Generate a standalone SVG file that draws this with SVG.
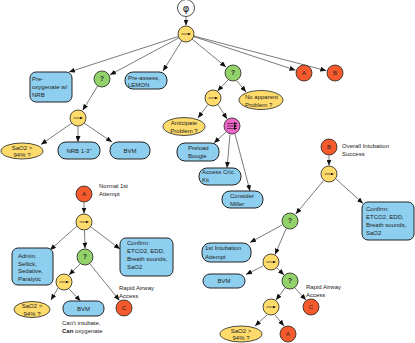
<svg xmlns="http://www.w3.org/2000/svg" width="415" height="343" viewBox="0 0 415 343">
<style>
text{font-family:"Liberation Sans",Arial,sans-serif;font-size:6px;fill:#222}
.c{text-anchor:middle}
.q{font-weight:bold;font-size:6.5px}
.box{fill:#8ECFF0;stroke:#222;stroke-width:1}
.yel{fill:#FFDB6B;stroke:#222;stroke-width:0.8}
.grn{fill:#93D26A;stroke:#222;stroke-width:0.8}
.red{fill:#F55A2C;stroke:#222;stroke-width:0.8}
.pnk{fill:#F067CB;stroke:#222;stroke-width:0.8}
.e line{stroke:#222;stroke-width:0.6;marker-end:url(#ah)}
.sym{stroke:#111;stroke-width:0.6;fill:none;marker-end:url(#sa)}
</style>
<defs>
<marker id="ah" viewBox="0 0 6 5" refX="6" refY="2.5" markerWidth="6" markerHeight="5" markerUnits="userSpaceOnUse" orient="auto"><path d="M0,0L6,2.5L0,5z" fill="#111"/></marker>
<marker id="sa" viewBox="0 0 4 4" refX="4" refY="2" markerWidth="3" markerHeight="3" markerUnits="userSpaceOnUse" orient="auto"><path d="M0,0L4,2L0,4z" fill="#111"/></marker>
<g id="seq"><circle r="8" class="yel"/><line x1="-4.5" y1="0" x2="4.5" y2="0" class="sym"/></g>
</defs>

<g class="e" id="edges">
<line x1="186" y1="16.5" x2="186" y2="25.5"/>
<line x1="178.4" y1="36.5" x2="69" y2="72"/>
<line x1="179" y1="37.8" x2="110" y2="74.8"/>
<line x1="181.8" y1="40.8" x2="163" y2="71"/>
<line x1="192" y1="39" x2="226" y2="67"/>
<line x1="193.6" y1="36.5" x2="295.5" y2="70.2"/>
<line x1="193.7" y1="36" x2="326.3" y2="70.7"/>
<line x1="97.8" y1="85.8" x2="82.7" y2="110.3"/>
<line x1="72" y1="123" x2="41" y2="144.5"/>
<line x1="78" y1="126.5" x2="78" y2="142"/>
<line x1="84" y1="123" x2="112" y2="142"/>
<line x1="228" y1="80" x2="217.5" y2="91"/>
<line x1="237" y1="81" x2="246" y2="92"/>
<line x1="208" y1="104.5" x2="198" y2="118"/>
<line x1="218" y1="104.5" x2="227" y2="119"/>
<line x1="226" y1="132" x2="214" y2="143"/>
<line x1="230" y1="134.5" x2="227" y2="168"/>
<line x1="235" y1="134" x2="250" y2="191"/>
<line x1="329" y1="155.5" x2="329" y2="165.5"/>
<line x1="323.6" y1="180.5" x2="295.8" y2="214"/>
<line x1="336" y1="179" x2="363" y2="203.5"/>
<line x1="282" y1="225" x2="250" y2="242.5"/>
<line x1="286" y1="229" x2="275" y2="254.5"/>
<line x1="263" y1="266" x2="246" y2="274.5"/>
<line x1="277" y1="268" x2="284" y2="275"/>
<line x1="285" y1="288" x2="276" y2="300"/>
<line x1="295" y1="288" x2="306" y2="300"/>
<line x1="267" y1="315" x2="255" y2="326"/>
<line x1="275" y1="315" x2="284" y2="326"/>
<line x1="84" y1="202.5" x2="84" y2="213.5"/>
<line x1="77" y1="226" x2="50" y2="250"/>
<line x1="84.5" y1="230.5" x2="85" y2="248.5"/>
<line x1="91" y1="227" x2="120" y2="249"/>
<line x1="80" y1="264" x2="69" y2="275"/>
<line x1="90" y1="264" x2="119.5" y2="300.5"/>
<line x1="58" y1="288" x2="51" y2="300"/>
<line x1="69" y1="289" x2="80.5" y2="301"/>
</g>

<g id="root"><circle cx="186" cy="8" r="8.5" fill="#fff" stroke="#222" stroke-width="0.8"/><text x="186" y="11.5" class="c" style="font-size:10px;font-family:'DejaVu Sans',sans-serif;fill:#111">φ</text></g>
<g id="seq1"><use href="#seq" x="186" y="34"/></g>

<g id="preoxy"><rect x="30" y="72" width="42" height="30" rx="6" class="box"/><text x="32" y="81">Pre-</text><text x="32" y="89">oxygenate w/</text><text x="32" y="97">NRB</text></g>
<g id="sel1"><circle cx="102" cy="79" r="8" class="grn"/><text x="102" y="81.3" class="c q">?</text></g>
<g id="preassess"><rect x="125" y="72" width="42" height="17" rx="8" class="box"/><text x="128" y="79.5">Pre-assess,</text><text x="128" y="86.5">LEMON</text></g>
<g id="sel2"><circle cx="233" cy="73" r="8" class="grn"/><text x="233" y="75.3" class="c q">?</text></g>
<g id="goA"><circle cx="304" cy="73" r="8" class="red"/><text x="304" y="75.2" class="c">A</text></g>
<g id="goB"><circle cx="335" cy="73" r="8" class="red"/><text x="335" y="75.2" class="c">B</text></g>

<g id="seq2"><use href="#seq" x="78" y="118"/></g>
<g id="sao2a"><ellipse cx="22" cy="151" rx="21" ry="8" class="yel"/><text x="22" y="149.5" class="c">SaO2 &gt;</text><text x="22" y="157" class="c">94% ?</text></g>
<g id="nrb"><rect x="58" y="142" width="42" height="17" rx="8" class="box"/><text x="79" y="153" class="c">NRB  1-3"</text></g>
<g id="bvm1"><rect x="110" y="142" width="40" height="17" rx="8" class="box"/><text x="130" y="153" class="c">BVM</text></g>

<g id="seq3"><use href="#seq" x="213" y="98"/></g>
<g id="noprob"><ellipse cx="261" cy="100" rx="22" ry="9.5" class="yel"/><text x="245" y="99">No apparent</text><text x="245" y="107">Problem ?</text></g>
<g id="antic"><ellipse cx="184" cy="126.5" rx="21" ry="9" class="yel"/><text x="184" y="125" class="c">Anticipate</text><text x="184" y="133" class="c">Problem ?</text></g>
<g id="par"><circle cx="232" cy="126" r="8" class="pnk"/><line x1="227" y1="123.5" x2="237" y2="123.5" class="sym"/><line x1="227" y1="126" x2="237" y2="126" class="sym"/><line x1="227" y1="128.5" x2="237" y2="128.5" class="sym"/></g>
<g id="bougie"><rect x="177" y="143" width="42" height="18" rx="8" class="box"/><text x="188" y="150">Preload</text><text x="188" y="158">Bougie</text></g>
<g id="cric"><rect x="199" y="168" width="42" height="17" rx="8" class="box"/><text x="202" y="174">Access Cric.</text><text x="202" y="181.5">Kit</text></g>
<g id="miller"><rect x="222" y="191" width="41" height="17" rx="8" class="box"/><text x="230" y="198">Consider</text><text x="230" y="205.5">Miller</text></g>

<g id="B"><circle cx="329" cy="147" r="8" class="red"/><text x="329" y="149.2" class="c">B</text><text x="342" y="148">Overall Intubation</text><text x="342" y="156">Success</text></g>
<g id="seq4"><use href="#seq" x="329" y="174"/></g>
<g id="confirmB"><rect x="362" y="202" width="52" height="38" rx="6" class="box"/><text x="366" y="211">Confirm:</text><text x="366" y="219">ETCO2, EDD,</text><text x="366" y="227">Breath sounds,</text><text x="366" y="235">SaO2</text></g>
<g id="sel3"><circle cx="290" cy="221" r="8" class="grn"/><text x="290" y="223.3" class="c q">?</text></g>
<g id="first"><rect x="202" y="243" width="49" height="19" rx="8" class="box"/><text x="205" y="250">1st Intubation</text><text x="205" y="259">Attempt</text></g>
<g id="seq5"><use href="#seq" x="271" y="262"/></g>
<g id="bvm2"><rect x="203" y="274" width="42" height="14" rx="7" class="box"/><text x="224" y="283" class="c">BVM</text></g>
<g id="sel4"><circle cx="290" cy="281" r="8" class="grn"/><text x="290" y="283.3" class="c q">?</text></g>
<g id="C2"><circle cx="311" cy="307" r="8" class="red"/><text x="311" y="309.2" class="c">C</text><text x="306" y="289">Rapid Airway</text><text x="306" y="297">Access</text></g>
<g id="seq6"><use href="#seq" x="271" y="307"/></g>
<g id="sao2c"><ellipse cx="241" cy="334" rx="21" ry="8" class="yel"/><text x="241" y="333" class="c">SaO2 &gt;</text><text x="241" y="340" class="c">94% ?</text></g>
<g id="A2"><circle cx="288" cy="334" r="8" class="red"/><text x="288" y="336.2" class="c">A</text></g>

<g id="A"><circle cx="84" cy="194" r="8" class="red"/><text x="84" y="196.2" class="c">A</text><text x="99" y="188">Normal 1st</text><text x="99" y="196">Attempt</text></g>
<g id="seq7"><use href="#seq" x="84" y="222"/></g>
<g id="admin"><rect x="12" y="248" width="41" height="37" rx="6" class="box"/><text x="18" y="258">Admin.</text><text x="18" y="265.5">Sellick,</text><text x="18" y="273">Sedative,</text><text x="18" y="280.5">Paralytic</text></g>
<g id="sel5"><circle cx="85" cy="257" r="8" class="grn"/><text x="85" y="259.3" class="c q">?</text></g>
<g id="confirmA"><rect x="120" y="238" width="53" height="38" rx="6" class="box"/><text x="127" y="245">Confirm:</text><text x="127" y="253">ETCO2, EDD,</text><text x="127" y="261">Breath sounds,</text><text x="127" y="269">SaO2</text></g>
<g id="seq8"><use href="#seq" x="64" y="282"/></g>
<g id="C1"><circle cx="124" cy="308" r="8" class="red"/><text x="124" y="310.2" class="c">C</text><text x="119" y="290">Rapid Airway</text><text x="119" y="298">Access</text></g>
<g id="sao2b"><ellipse cx="32" cy="309.5" rx="18" ry="8" class="yel"/><text x="32" y="308" class="c">SaO2 &gt;</text><text x="32" y="315.5" class="c">94% ?</text></g>
<g id="bvm3"><rect x="63" y="301" width="41" height="15" rx="7" class="box"/><text x="83.5" y="310.5" class="c">BVM</text><text x="62" y="325">Can't intubate,</text><text x="62" y="333"><tspan font-weight="bold">Can</tspan> oxygenate</text></g>
</svg>
